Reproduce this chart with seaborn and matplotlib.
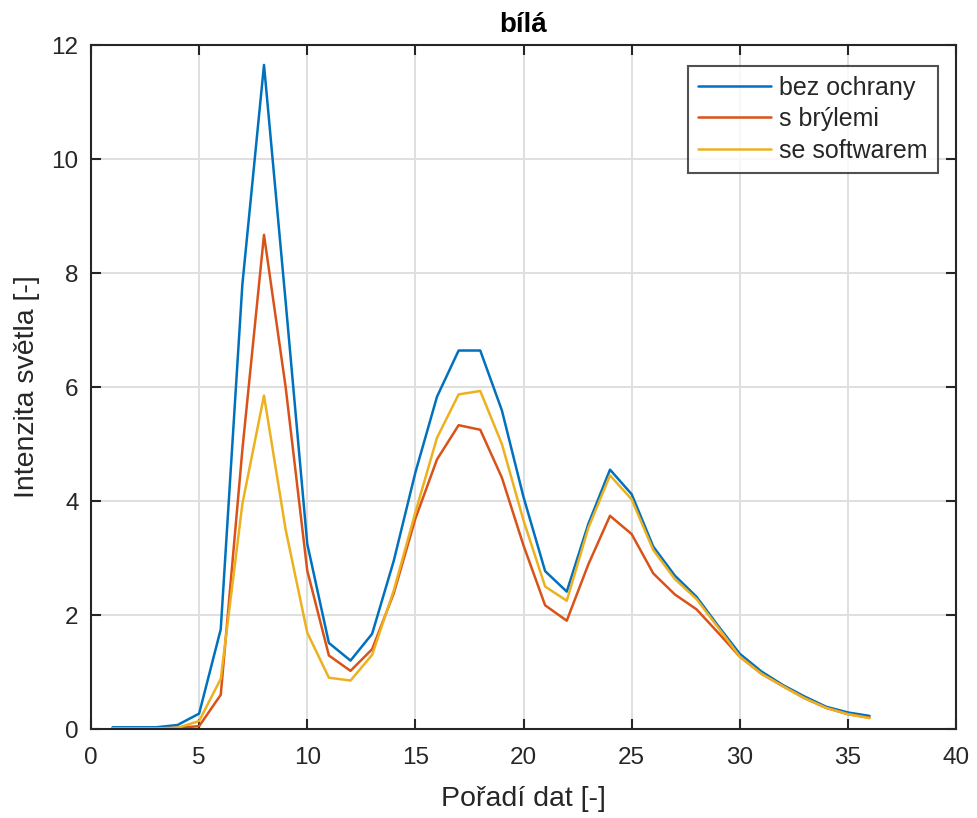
import matplotlib
matplotlib.use("Agg")
import matplotlib.pyplot as plt
import seaborn as sns
import pandas as pd
import numpy as np

poradi = list(range(1, 37))
bez_ochrany = [0.03, 0.03, 0.03, 0.07, 0.27, 1.75, 7.8, 11.65, 7.5, 3.25,
               1.51, 1.2, 1.67, 2.95, 4.5, 5.83, 6.64, 6.64, 5.59, 4.07,
               2.77, 2.41, 3.6, 4.55, 4.12, 3.2, 2.69, 2.32, 1.81, 1.32,
               1.01, 0.77, 0.57, 0.39, 0.29, 0.23]
s_brylemi = [0.01, 0.01, 0.01, 0.02, 0.05, 0.6, 4.9, 8.67, 6.0, 2.78,
             1.29, 1.02, 1.4, 2.38, 3.69, 4.73, 5.33, 5.25, 4.41, 3.22,
             2.17, 1.9, 2.89, 3.74, 3.42, 2.73, 2.36, 2.1, 1.69, 1.27,
             0.97, 0.75, 0.54, 0.37, 0.26, 0.2]
se_softwarem = [0.01, 0.01, 0.01, 0.02, 0.14, 0.88, 3.95, 5.85, 3.5, 1.69,
                0.9, 0.85, 1.3, 2.43, 3.8, 5.11, 5.87, 5.93, 5.0, 3.66,
                2.5, 2.25, 3.53, 4.45, 4.03, 3.14, 2.63, 2.28, 1.78, 1.27,
                0.97, 0.75, 0.54, 0.37, 0.26, 0.19]
series_names = ["bez ochrany", "s brýlemi", "se softwarem"]
colors = ["#0072BD", "#D95319", "#EDB120"]
x_ticks = [0, 5, 10, 15, 20, 25, 30, 35, 40]
y_ticks = [0, 2, 4, 6, 8, 10, 12]

df = pd.concat([
    pd.DataFrame({"x": poradi, "y": vals, "serie": name})
    for name, vals in zip(series_names, [bez_ochrany, s_brylemi, se_softwarem])
], ignore_index=True)

sns.set_theme(style="white")
plt.rcParams["font.family"] = ["Liberation Sans", "DejaVu Sans"]

fig = plt.figure(figsize=(9.77, 8.18), dpi=100)
ax = fig.add_axes([91/977, 1-729/818, (956-91)/977, (729-45)/818])

sns.lineplot(data=df, x="x", y="y", hue="serie", hue_order=series_names,
             palette=colors, linewidth=1.8, ax=ax, legend=True)

ax.set_xlim(0, 40)
ax.set_ylim(0, 12)
ax.set_xticks(x_ticks)
ax.set_yticks(y_ticks)
ax.grid(True, color="#dfdfdf", linewidth=1.4)
ax.set_axisbelow(True)
for sp in ax.spines.values():
    sp.set_color("#262626")
    sp.set_linewidth(1.5)
ax.tick_params(direction="in", length=7, width=1.5, color="#262626",
               labelcolor="#262626", labelsize=17.5, top=True, right=True,
               left=True, bottom=True)
ax.tick_params(axis="x", pad=13)
ax.tick_params(axis="y", pad=9)
ax.set_xlabel("Pořadí dat [-]", fontsize=20.5, color="#262626", labelpad=12)
ax.set_ylabel("Intenzita světla [-]", fontsize=20.5, color="#262626", labelpad=8)
ax.set_title("bílá", fontsize=20, fontweight="bold", color="black", pad=9)

leg = ax.legend(loc="upper right", bbox_to_anchor=(0.979, 0.97), fontsize=18,
                frameon=True, fancybox=False, edgecolor="#262626",
                handlelength=2.9, handletextpad=0.35, borderpad=0.4,
                labelspacing=0.3, borderaxespad=0)
leg.get_frame().set_linewidth(1.5)
leg.get_frame().set_facecolor("white")
for line in leg.get_lines():
    line.set_linewidth(1.8)

fig.savefig("out.png", dpi=100)
